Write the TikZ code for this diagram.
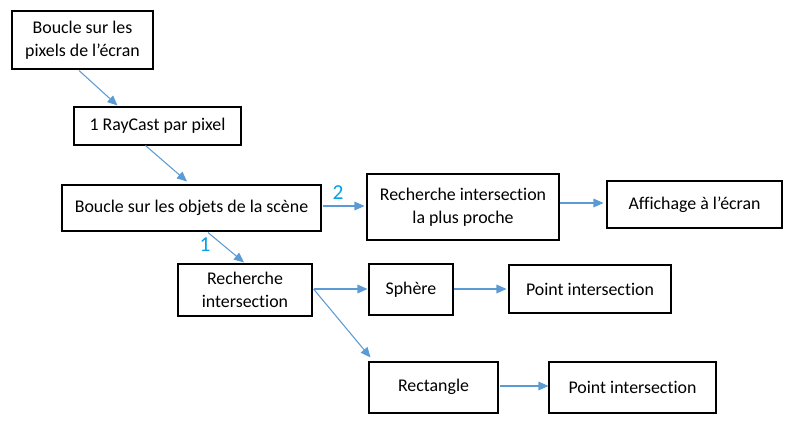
\documentclass[tikz,border=0pt]{standalone}
\usepackage{fontspec}
\setmainfont{Carlito}[Ligatures=NoCommon]
\usetikzlibrary{arrows.meta,calc}
\definecolor{arrowblue}{HTML}{5B9BD5}
\definecolor{labelblue}{RGB}{0,162,232}
\begin{document}
\begin{tikzpicture}[x=0.75pt,y=-0.75pt,
  box/.style={draw=black,line width=0.8pt,inner sep=0pt,align=center,
    font=\fontsize{13.4}{17.25}\selectfont},
  conn/.style={draw=arrowblue,line width=0.8pt,-{Triangle[length=7.5pt,width=6.5pt]}},
  numlabel/.style={text=labelblue,inner sep=0pt,font=\fontsize{16}{18}\selectfont}]
\useasboundingbox (0,0) rectangle (793,432);
\node[box,minimum width=105.75pt,minimum height=43.5pt] (b1) at (82.5,40) {Boucle sur les\\pixels de l’écran};
\node[box,minimum width=125.25pt,minimum height=28.5pt] (b2) at (157.5,126) {1 RayCast par pixel};
\node[box,minimum width=194.25pt,minimum height=34.5pt] (b3) at (191.5,208) {Boucle sur les objets de la scène};
\node[box,minimum width=144pt,minimum height=49.5pt] (b4) at (463,207) {Recherche intersection\\la plus proche};
\node[box,minimum width=131.25pt,minimum height=35.25pt] (b5) at (694.5,204.5) {Affichage à l’écran};
\node[box,minimum width=100.5pt,minimum height=39pt] (b6) at (245,290) {Recherche\\intersection};
\node[box,minimum width=63pt,minimum height=38.25pt] (b7) at (411,289.5) {\raisebox{2pt}{Sphère}};
\node[box,minimum width=121.5pt,minimum height=36pt] (b8) at (590,289) {Point intersection};
\node[box,minimum width=96.75pt,minimum height=38.25pt] (b9) at (433.5,387.5) {\raisebox{3.2pt}{Rectangle}};
\node[box,minimum width=125.25pt,minimum height=38.25pt] (b10) at (632.5,387.5) {Point intersection};
\node[numlabel] (l2) at (338,193) {2};
\node[numlabel] (l1) at (205,245) {1};
\draw[conn] ($(b1.south)+(-3.5,1)$) -- ($(b2.north west)+(44,-1)$);
\draw[conn] ($(b2.south)+(-12,0)$) -- ($(b3.north)+(-4.5,-3)$);
\draw[conn] ($(b3.east)+(1,-2)$) -- ($(b4.west)+(-2,-1)$);
\draw[conn] ($(b4.east)+(0,-4)$) -- ($(b5.west)+(-3,-1.5)$);
\draw[conn] ($(b3.south)+(16.5,1)$) -- ($(b6.north)+(-1,-1)$);
\draw[conn] ($(b6.east)+(1,-1)$) -- ($(b7.west)+(-1,-0.5)$);
\draw[conn] ($(b7.east)+(0,-0.5)$) -- ($(b8.west)+(-2,0)$);
\draw[conn] ($(b6.east)+(1,-1)$) -- ($(b9.north west)+(2,-4)$);
\draw[conn] ($(b9.east)+(1,-1.5)$) -- ($(b10.west)+(0,-1.5)$);
\end{tikzpicture}
\end{document}
